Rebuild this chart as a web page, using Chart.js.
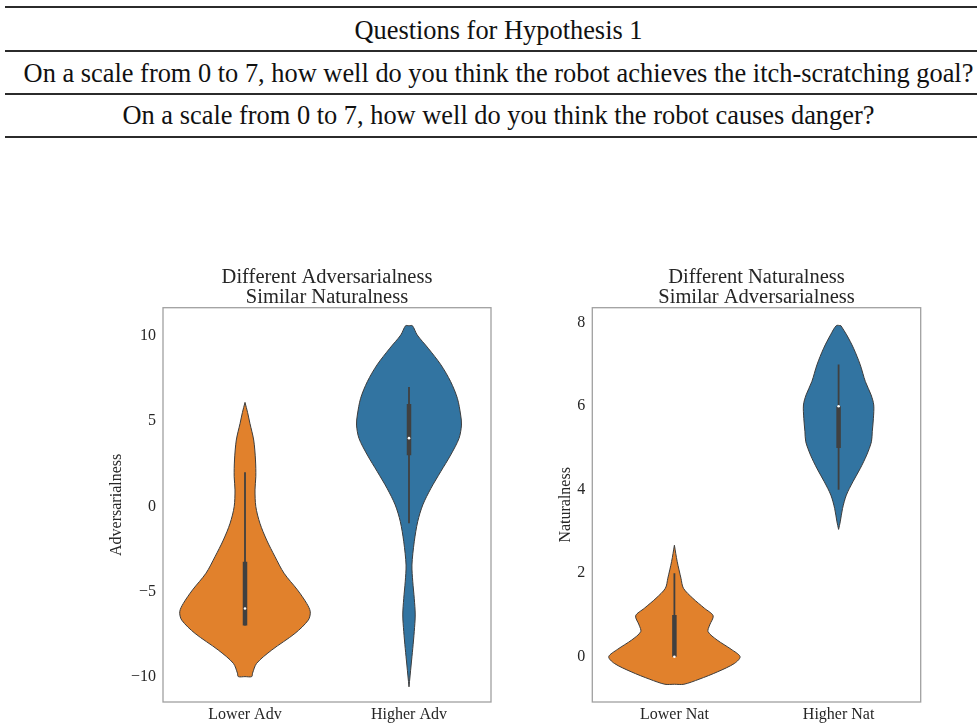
<!DOCTYPE html>
<html>
<head>
<meta charset="utf-8">
<script src="https://cdn.jsdelivr.net/npm/chart.js@4"></script>
<style>
  body { margin: 0; background: #fff; width: 977px; height: 723px; overflow: hidden; position: relative; font-family: 'Liberation Serif', 'DejaVu Serif', serif; color: #111; }
  .rule { position: absolute; left: 5px; right: 0; background: #2b2b2b; }
  .row { position: absolute; left: 0; width: 997px; text-align: center; font-size: 26.4px; white-space: nowrap; }
  canvas { position: absolute; top: 250px; }
</style>
</head>
<body>
<div class="rule" style="top:6px;height:2px"></div>
<div class="row" style="top:15px;line-height:30px">Questions for Hypothesis 1</div>
<div class="rule" style="top:50px;height:2px"></div>
<div class="row" style="top:58px;line-height:30px">On a scale from 0 to 7, how well do you think the robot achieves the itch-scratching goal?</div>
<div class="rule" style="top:93px;height:2px"></div>
<div class="row" style="top:100px;line-height:30px">On a scale from 0 to 7, how well do you think the robot causes danger?</div>
<div class="rule" style="top:136px;height:2px"></div>

<canvas id="advChart" width="500" height="473" style="left:0"></canvas>
<canvas id="natChart" width="477" height="473" style="left:500px"></canvas>

<script>
// categories and ticks
const advCategories = ['Lower Adv', 'Higher Adv'];
const natCategories = ['Lower Nat', 'Higher Nat'];
const advTicks = [-10, -5, 0, 5, 10];
const natTicks = [0, 2, 4, 6, 8];

// violin outlines: value levels (top to bottom) and half widths in category units
const lowerAdvLevels = [6.1, 5.5, 4.87, 3.89, 2.72, 1.74, 0.96, -0.02, -1.0, -1.98, -2.96, -3.93, -4.91, -5.7, -6.19, -6.68, -7.46, -8.44, -9.22, -9.8, -10.0, -10.0];
const lowerAdvWidths = [0.0, 0.016, 0.03, 0.053, 0.064, 0.066, 0.061, 0.066, 0.091, 0.132, 0.183, 0.238, 0.32, 0.376, 0.398, 0.386, 0.305, 0.163, 0.071, 0.046, 0.041, 0.0];
const higherAdvLevels = [10.6, 10.6, 10.06, 9.28, 8.3, 7.32, 6.34, 5.36, 4.77, 3.99, 3.01, 2.03, 1.06, 0.08, -0.9, -2.08, -3.45, -4.43, -5.4, -6.38, -7.36, -8.34, -9.32, -10.6];
const higherAdvWidths = [0.0, 0.021, 0.05, 0.117, 0.195, 0.254, 0.295, 0.315, 0.32, 0.305, 0.254, 0.193, 0.134, 0.084, 0.053, 0.032, 0.018, 0.023, 0.032, 0.038, 0.032, 0.023, 0.013, 0.0];
const lowerNatLevels = [2.67, 2.28, 1.88, 1.64, 1.4, 1.16, 0.98, 0.76, 0.6, 0.4, 0.18, 0.0, -0.16, -0.36, -0.54, -0.66, -0.66];
const lowerNatWidths = [0.0, 0.017, 0.04, 0.055, 0.112, 0.183, 0.236, 0.215, 0.205, 0.26, 0.345, 0.4, 0.366, 0.264, 0.15, 0.058, 0.0];
const higherNatLevels = [7.93, 7.71, 7.39, 6.99, 6.59, 6.27, 6.03, 5.71, 5.39, 5.15, 4.83, 4.51, 4.19, 3.87, 3.55, 3.23, 3.05];
const higherNatWidths = [0.014, 0.049, 0.091, 0.132, 0.163, 0.198, 0.214, 0.212, 0.205, 0.2, 0.171, 0.132, 0.087, 0.047, 0.024, 0.01, 0.0];

// inner box plots
const advMedians = [-6, 4];
const advQ1 = [-7, 3];
const advQ3 = [-3.25, 6];
const advWhiskerLow = [-7, -1];
const advWhiskerHigh = [2, 7];
const natMedians = [0, 6];
const natQ1 = [0, 5];
const natQ3 = [1, 6];
const natWhiskerLow = [0, 4];
const natWhiskerHigh = [2, 7];

const ORANGE = '#e1812c';
const BLUE = '#3274a1';
const INK = '#262626';
const SERIF = "'Liberation Serif', 'DejaVu Serif', serif";

function violinPoints(center, levels, widths) {
    const right = levels.map((y, i) => ({x: center + widths[i], y: y}));
    const left = levels.map((y, i) => ({x: center - widths[i], y: y})).reverse();
    return right.concat(left, [right[0]]);
}

function violinDataset(center, levels, widths, color) {
    return {
        type: 'line',
        data: violinPoints(center, levels, widths),
        backgroundColor: color,
        borderColor: '#3c3c3c',
        borderWidth: 1,
        pointRadius: 0,
        tension: 0.3,
        fill: 'shape',
        order: 3
    };
}

function boxDatasets(medians, q1, q3, lo, hi) {
    const sets = [];
    medians.forEach((m, i) => {
        sets.push({
            type: 'line',
            data: [{x: i, y: lo[i]}, {x: i, y: hi[i]}],
            borderColor: '#404040',
            borderWidth: 1.8,
            pointRadius: 0,
            fill: false,
            order: 2
        });
        sets.push({
            type: 'line',
            data: [{x: i, y: q1[i]}, {x: i, y: q3[i]}],
            borderColor: '#404040',
            borderWidth: 4.5,
            borderCapStyle: 'butt',
            pointRadius: 0,
            fill: false,
            order: 1
        });
        sets.push({
            type: 'scatter',
            data: [{x: i, y: m}],
            backgroundColor: '#ffffff',
            borderWidth: 0,
            pointRadius: 1.3,
            order: 0
        });
    });
    return sets;
}

// frame round the plot area
const framePlugin = {
    id: 'frame',
    afterDraw(chart) {
        const {ctx, chartArea: a} = chart;
        ctx.save();
        ctx.strokeStyle = '#a0a0a0';
        ctx.lineWidth = 1.3;
        ctx.strokeRect(a.left, a.top, a.right - a.left, a.bottom - a.top);
        ctx.restore();
    }
};

function makeChart(id, opts) {
    const ctx = document.getElementById(id).getContext('2d');
    return new Chart(ctx, {
        type: 'line',
        data: {datasets: opts.datasets},
        options: {
            responsive: false,
            animation: false,
            layout: {padding: {left: 0, right: opts.padRight, top: 0, bottom: 0}},
            plugins: {
                legend: {display: false},
                tooltip: {enabled: false},
                title: {
                    display: true,
                    text: opts.title,
                    fullSize: false,
                    color: INK,
                    font: {family: SERIF, size: 20.5, weight: 'normal', lineHeight: 20 / 20.5},
                    padding: {top: 17.5, bottom: 0.2}
                }
            },
            scales: {
                x: {
                    type: 'linear',
                    min: -0.5,
                    max: 1.5,
                    grid: {display: false, drawTicks: false},
                    border: {display: false},
                    afterBuildTicks: s => { s.ticks = [{value: 0}, {value: 1}]; },
                    afterFit: s => { s.height = 21; },
                    ticks: {
                        color: INK,
                        padding: 3,
                        font: {family: SERIF, size: 16},
                        callback: v => opts.categories[v]
                    }
                },
                y: {
                    type: 'linear',
                    min: opts.yMin,
                    max: opts.yMax,
                    grid: {display: false, drawTicks: false},
                    border: {display: false},
                    afterBuildTicks: s => { s.ticks = opts.ticks.map(v => ({value: v})); },
                    afterFit: s => { s.width = opts.axisWidth; },
                    title: {
                        display: true,
                        text: opts.yTitle,
                        color: INK,
                        font: {family: SERIF, size: 16},
                        padding: {top: opts.titlePad, bottom: 0}
                    },
                    ticks: {
                        color: INK,
                        padding: 7,
                        font: {family: SERIF, size: 16},
                        callback: v => (v < 0 ? '\u2212' + Math.abs(v) : String(v))
                    }
                }
            }
        },
        plugins: [framePlugin]
    });
}

makeChart('advChart', {
    title: ['Different Adversarialness', 'Similar Naturalness'],
    yTitle: 'Adversarialness',
    categories: advCategories,
    ticks: advTicks,
    yMin: -11.49,
    yMax: 11.66,
    padRight: 9,
    axisWidth: 163,
    titlePad: 107.4,
    datasets: [
        violinDataset(0, lowerAdvLevels, lowerAdvWidths, ORANGE),
        violinDataset(1, higherAdvLevels, higherAdvWidths, BLUE)
    ].concat(boxDatasets(advMedians, advQ1, advQ3, advWhiskerLow, advWhiskerHigh))
});

makeChart('natChart', {
    title: ['Different Naturalness', 'Similar Adversarialness'],
    yTitle: 'Naturalness',
    categories: natCategories,
    ticks: natTicks,
    yMin: -1.085,
    yMax: 8.36,
    padRight: 56.3,
    axisWidth: 92.3,
    titlePad: 56.4,
    datasets: [
        violinDataset(0, lowerNatLevels, lowerNatWidths, ORANGE),
        violinDataset(1, higherNatLevels, higherNatWidths, BLUE)
    ].concat(boxDatasets(natMedians, natQ1, natQ3, natWhiskerLow, natWhiskerHigh))
});
</script>
</body>
</html>
